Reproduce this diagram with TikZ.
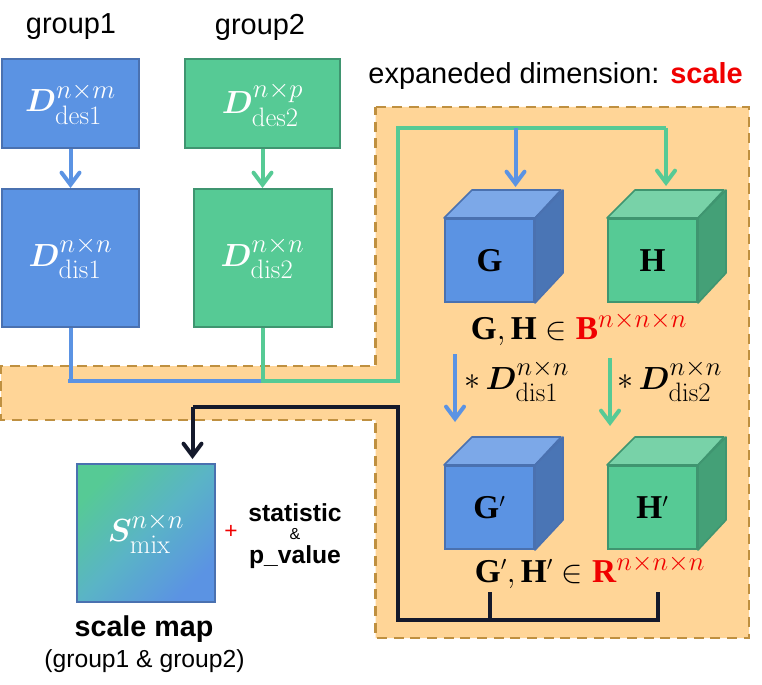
\RequirePackage{fix-cm}
\documentclass[tikz,border=0pt]{standalone}
\usepackage{amsmath,bm}
\usepackage[no-math]{fontspec}
\setmainfont{Liberation Sans}
\newfontfamily\serb{Liberation Serif}[BoldFont={Liberation Serif Bold}]
\usetikzlibrary{arrows.meta,calc}
\DeclareMathSizes{22}{24}{20}{15}
\DeclareMathSizes{24}{24}{20}{15}
\definecolor{bfill}{HTML}{5B93E3}
\definecolor{bedge}{HTML}{4A71B0}
\definecolor{btop}{HTML}{7CA8E8}
\definecolor{bside}{HTML}{4A75B5}
\definecolor{gfill}{HTML}{56CA95}
\definecolor{gedge}{HTML}{3F9570}
\definecolor{gtop}{HTML}{78D2A8}
\definecolor{gside}{HTML}{44A077}
\definecolor{gmid}{HTML}{5AB4C6}
\definecolor{panel}{HTML}{FFD597}
\definecolor{panelb}{HTML}{BF9040}
\definecolor{ink}{HTML}{14192B}
\definecolor{redt}{HTML}{F00000}
\newcommand{\bigf}{\fontsize{22}{26}\selectfont}
\newcommand{\MM}[3]{$\bm{#1}_{\mathrm{#2}}^{#3}$}
\newcommand{\SB}[1]{\text{\serb\bfseries\fontsize{25}{28}\selectfont #1}}
\newcommand{\pr}{^{\scriptscriptstyle\prime}}
\tikzset{
  px/.style={x=0.75pt,y=-0.75pt},
  matb/.style={draw=bedge,fill=bfill,line width=1.5pt,text=white,inner sep=0pt,font=\bigf},
  matg/.style={draw=gedge,fill=gfill,line width=1.5pt,text=white,inner sep=0pt,font=\bigf},
  formula/.style={inner sep=0pt,font=\bigf},
  lbl/.style={inner sep=0pt,font=\fontsize{21.7}{25}\selectfont},
  conn/.style={line width=3pt,line join=miter},
  tip/.style={-{Straight Barb[length=9pt,width=13.5pt,line cap=round]}},
}
% #1 name, #2 centre, #3 fill, #4 edge, #5 top, #6 side, #7 text
\newcommand{\cube}[7]{%
  \node[draw=#4,fill=#3,line width=1.5pt,minimum width=66.75pt,minimum height=62.25pt,inner sep=0pt,text=black,font=\fontsize{24}{28}\selectfont] (#1) at (#2) {#7};
  \draw[draw=#4,fill=#5,line width=1.2pt,line join=round] (#1.north west) -- ++(28,-28) -- ++(89,0) -- (#1.north east) -- cycle;
  \draw[draw=#4,fill=#6,line width=1.2pt,line join=round] (#1.north east) -- ++(28,-28) -- ++(0,83) -- (#1.south east) -- cycle;
}
\begin{document}
\begin{tikzpicture}[px]
\useasboundingbox (0,0) rectangle (762,684);
% panel
\draw[fill=panel,draw=panelb,line width=2.2pt,dash pattern=on 7.5pt off 5pt]
  (375.5,107) -- (749,107) -- (749,638) -- (375.5,638) -- (375.5,420) -- (1,420) -- (1,366) -- (375.5,366) -- cycle;
% titles
\node[lbl] (t1) at (71,27) {group1};
\node[lbl] (t2) at (260,27) {group2};
\node[lbl,anchor=east] (t3) at (743,76) {expaneded dimension: \textcolor{redt}{\textbf{scale}}};
% matrices
\node[matb,minimum width=102.75pt,minimum height=66.75pt] (des1) at (70.5,104) {\MM{D}{des1}{n\times m}};
\node[matb,minimum width=102.75pt,minimum height=103.5pt] (dis1) at (70.5,258) {\MM{D}{dis1}{n\times n}};
\node[matg,minimum width=116.25pt,minimum height=66.75pt] (des2) at (262.5,104) {\MM{D}{des2}{n\times p}};
\node[matg,minimum width=103.5pt,minimum height=103.5pt] (dis2) at (262.5,258) {\MM{D}{dis2}{n\times n}};
\draw[conn,draw=bfill,tip] (des1.south) -- (dis1.north);
\draw[conn,draw=gfill,tip] (des2.south) -- (dis2.north);
% cubes
\cube{G}{489.5,260.5}{bfill}{bedge}{btop}{bside}{$\SB{G}$}
\cube{H}{652.5,260.5}{gfill}{gedge}{gtop}{gside}{$\SB{H}$}
\cube{Gp}{489.5,507.5}{bfill}{bedge}{btop}{bside}{$\SB{G}\pr$}
\cube{Hp}{652.5,507.5}{gfill}{gedge}{gtop}{gside}{$\SB{H}\pr$}
% routing coordinates
\coordinate (b1) at (68,380.5);
\coordinate (bj) at (262.5,380.5);
\coordinate (gc) at (398,380.5);
\coordinate (gt) at (398,128);
\coordinate (gr) at (666,128);
\coordinate (htip) at (666,186);
\coordinate (bt) at (515.5,128);
\coordinate (gtip) at (515.5,187);
% connectors in
\draw[conn,draw=bfill] (dis1.south) -- (70.5,380.5);
\draw[conn,draw=bfill] (b1) -- (bj);
\draw[conn,draw=gfill] (dis2.south) -- (bj) -- (gc) -- (gt) -- (gr);
\draw[conn,draw=gfill,tip] (gr) -- (htip);
\draw[conn,draw=bfill,tip] (bt) -- (gtip);
% formulas
\node[formula] (f1) at (579,329) {$\SB{G},\SB{H}\in\textcolor{redt}{\SB{B}^{n\times n\times n}}$};
\node[formula] (f2) at (590,572) {$\SB{G}\pr,\SB{H}\pr\in\textcolor{redt}{\SB{R}^{n\times n\times n}}$};
\coordinate (a1s) at (455,354);
\coordinate (a1e) at (455,422);
\coordinate (a2s) at (610,358);
\coordinate (a2e) at (610,426);
\draw[conn,draw=bfill,tip] (a1s) -- (a1e);
\draw[conn,draw=gfill,tip] (a2s) -- (a2e);
\node[formula,anchor=west] (m1) at (464,381) {$*\,$\MM{D}{dis1}{n\times n}};
\node[formula,anchor=west] (m2) at (617,381) {$*\,$\MM{D}{dis2}{n\times n}};
% result connector
\coordinate (k1) at (490,592);
\coordinate (k2) at (658,592);
\coordinate (k3) at (658,620);
\coordinate (k4) at (490,620);
\coordinate (k5) at (398,620);
\coordinate (k6) at (398,407);
\coordinate (k7) at (192.5,407);
% scale map
\shade[top color=gfill,bottom color=bfill,middle color=gmid,shading angle=45] (77,464) rectangle (215,602);
\node[draw=bedge,line width=1.5pt,minimum width=103.5pt,minimum height=103.5pt,inner sep=0pt,text=white,font=\bigf] (S) at (146,533) {\MM{S}{mix}{n\times n}};
\coordinate (k8) at (192.5,459);
\draw[conn,draw=ink,line cap=butt] (k1) -- (k4);
\draw[conn,draw=ink] (k2) -- (k3) -- (k5) -- (k6) -- (k7);
\draw[conn,draw=ink,tip] (k7) -- (k8);
% side labels
\node[inner sep=0pt,text=redt,font=\fontsize{17}{19}\selectfont] (plus) at (231,532) {+};
\node[inner sep=0pt,font=\bfseries\fontsize{18.5}{20}\selectfont] (st) at (295,512.5) {statistic};
\node[inner sep=0pt,font=\fontsize{12}{13}\selectfont] (amp) at (295,534.5) {\&};
\node[inner sep=0pt,font=\bfseries\fontsize{18.5}{20}\selectfont] (pv) at (295,557.5) {p\_value};
\node[inner sep=0pt,font=\bfseries\fontsize{21.5}{25}\selectfont] (sm) at (144,629) {scale map};
\node[inner sep=0pt,font=\fontsize{18.5}{22}\selectfont] (gg) at (144.5,661) {(group1 \& group2)};
\end{tikzpicture}
\end{document}
